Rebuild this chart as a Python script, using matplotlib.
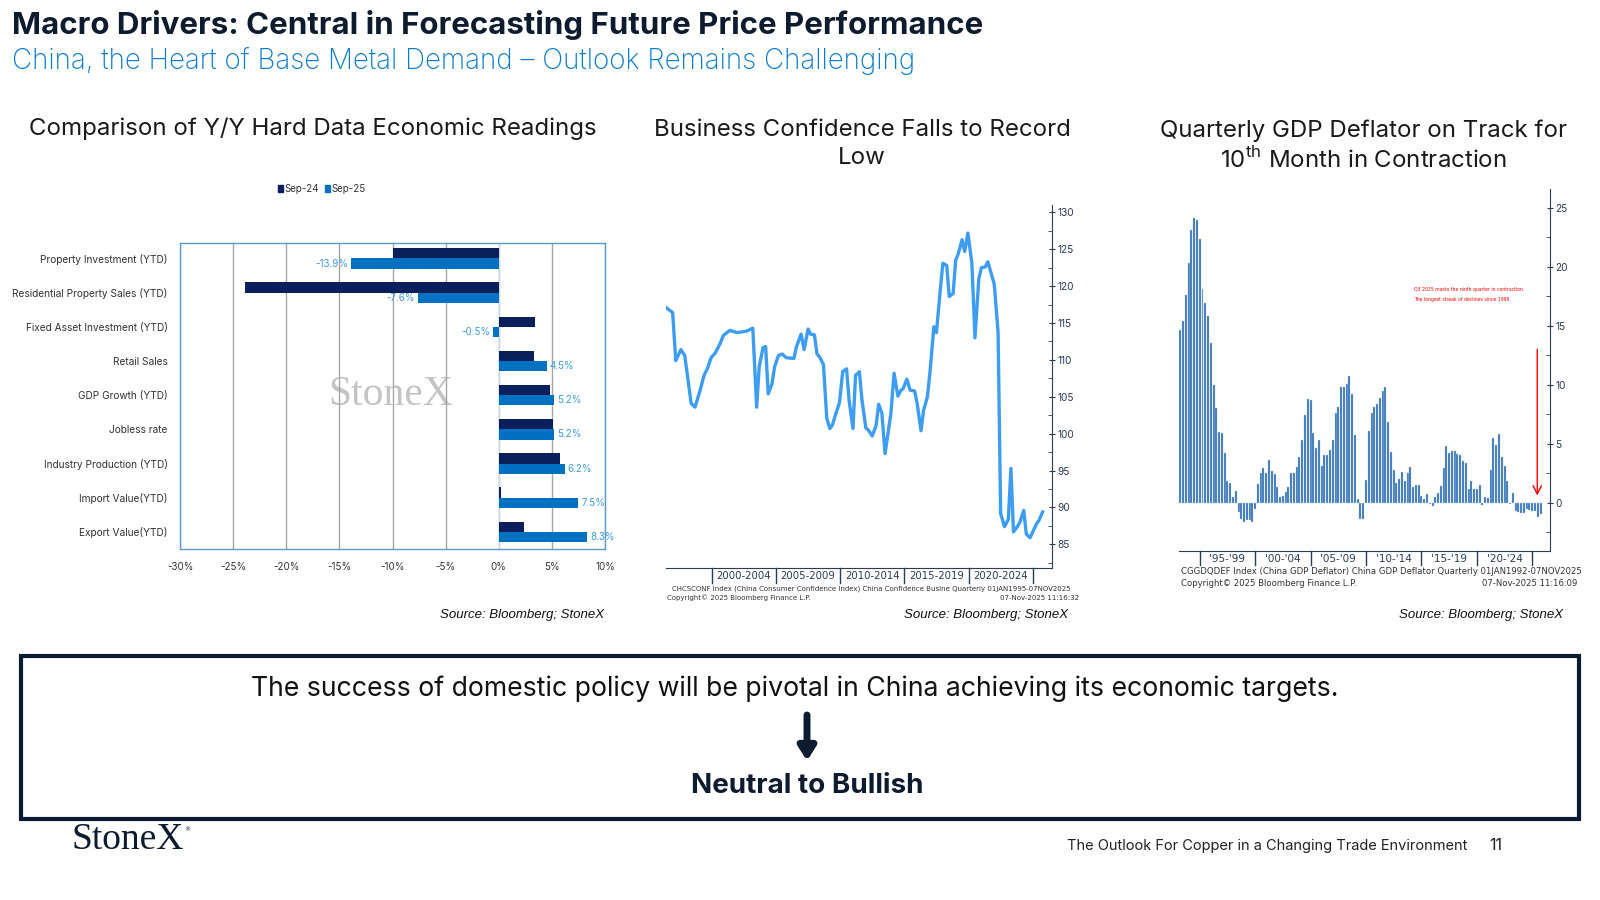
import matplotlib
matplotlib.use("Agg")
import matplotlib.pyplot as plt
import matplotlib.transforms as mtransforms
from matplotlib.patches import Rectangle, Patch

plt.rcParams['font.family'] = ['Inter', 'DejaVu Sans']
plt.rcParams['mathtext.fontset'] = 'custom'
plt.rcParams['mathtext.rm'] = 'Inter'

W, H = 1600, 900

# ---- left chart: Y/Y hard data ----
categories = ["Property Investment (YTD)", "Residential Property Sales (YTD)",
              "Fixed Asset Investment (YTD)", "Retail Sales", "GDP Growth (YTD)",
              "Jobless rate", "Industry Production (YTD)", "Import Value(YTD)",
              "Export Value(YTD)"]
sep24 = [-10.0, -23.9, 3.4, 3.3, 4.8, 5.1, 5.8, 0.2, 2.4]
sep25 = [-13.9, -7.6, -0.5, 4.5, 5.2, 5.2, 6.2, 7.5, 8.3]
pct_ticks = [-30, -25, -20, -15, -10, -5, 0, 5, 10]

# ---- middle chart: business confidence (date, index) ----
conf_dates = [1996.44, 1996.75, 1996.96, 1997.2, 1997.6, 1997.9, 1998.4, 1998.7, 1999.1,
              1999.4, 1999.66, 1999.95, 2000.26, 2000.65, 2000.9, 2001.4, 2002.0, 2002.7,
              2003.2, 2003.5, 2003.7, 2004.0, 2004.2, 2004.4, 2004.7, 2004.9, 2005.2,
              2005.5, 2005.8, 2006.4, 2006.6, 2006.96, 2007.2, 2007.5, 2007.7, 2008.0,
              2008.2, 2008.4, 2008.7, 2008.96, 2009.2, 2009.4, 2009.7, 2009.95, 2010.2,
              2010.5, 2010.7, 2011.0, 2011.2, 2011.5, 2011.7, 2012.0, 2012.2, 2012.5,
              2012.8, 2013.0, 2013.25, 2013.5, 2013.95, 2014.2, 2014.5, 2014.7, 2014.9,
              2015.2, 2015.45, 2015.8, 2016.0, 2016.3, 2016.5, 2016.8, 2017.0, 2017.3,
              2017.5, 2017.8, 2018.0, 2018.3, 2018.5, 2018.8, 2019.0, 2019.2, 2019.5,
              2019.7, 2019.95, 2020.26, 2020.5, 2020.8, 2021.0, 2021.3, 2021.5, 2022.0,
              2022.3, 2022.5, 2022.8, 2023.1, 2023.3, 2023.5, 2023.8, 2024.0, 2024.3,
              2024.5, 2024.8, 2025.0, 2025.3, 2025.5, 2025.77]
conf_values = [117.1, 116.7, 116.4, 109.9, 111.4, 110.6, 104.1, 103.6, 105.9, 107.9, 108.8,
               110.3, 110.9, 112.2, 113.3, 114.0, 113.7, 113.9, 114.3, 103.6, 109.1, 111.7,
               111.8, 105.4, 106.8, 109.1, 110.6, 110.8, 110.3, 110.2, 111.8, 113.5, 111.4,
               114.2, 113.5, 113.4, 110.8, 110.4, 109.4, 102.1, 100.7, 101.2, 102.9, 104.2,
               108.4, 108.8, 104.5, 100.7, 107.9, 108.4, 104.6, 100.8, 100.5, 99.7, 101.1,
               104.0, 102.8, 97.3, 102.7, 108.2, 105.1, 105.8, 106.1, 107.4, 105.9, 105.8,
               104.1, 100.4, 103.2, 105.0, 108.4, 114.5, 113.7, 119.5, 123.1, 122.8, 118.6,
               119.0, 123.5, 124.4, 126.3, 124.7, 127.2, 123.1, 113.0, 121.0, 122.5, 122.6,
               123.3, 120.3, 113.8, 89.2, 87.4, 88.4, 95.3, 86.7, 87.4, 88.0, 89.6, 86.4,
               85.9, 86.7, 87.8, 88.3, 89.4]
conf_period_labels = ["2000-2004", "2005-2009", "2010-2014", "2015-2019", "2020-2024"]
conf_period_starts = [2000, 2005, 2010, 2015, 2020, 2025]

# ---- right chart: quarterly GDP deflator, 1993Q1 .. 2025Q3 ----
deflator_first_year = 1993
deflator = [14.6, 15.4, 17.6, 20.3, 23.1, 24.1, 24.0, 22.4, 18.1, 16.9,
            15.8, 13.5, 10.0, 8.0, 6.0, 5.9, 4.2, 1.8, 1.7, 0.5,
            1.0, -0.8, -1.4, -1.6, -1.5, -1.5, -1.6, -0.5, 1.6, 2.5,
            2.9, 2.5, 3.6, 2.7, 2.4, 1.3, 0.5, 0.6, 0.9, 1.3,
            2.5, 2.5, 3.0, 3.9, 5.3, 7.4, 8.8, 8.7, 5.9, 4.6,
            5.3, 3.1, 4.0, 4.0, 4.5, 5.3, 7.6, 8.1, 9.8, 9.8,
            10.1, 10.7, 9.2, 5.7, 0.3, -1.4, -1.4, 1.9, 6.1, 7.6,
            8.1, 8.4, 8.9, 9.5, 9.8, 6.8, 4.3, 2.8, 1.7, 2.0,
            2.6, 1.8, 2.5, 3.0, 1.3, 1.5, 1.5, 0.6, 0.3, 0.7,
            -0.1, -0.3, 0.5, 0.8, 1.4, 2.9, 4.8, 4.2, 4.4, 4.4,
            4.1, 4.0, 3.5, 3.4, 1.2, 1.8, 1.2, 1.2, 1.5, -0.2,
            0.5, 0.4, 2.8, 5.5, 4.9, 5.8, 3.9, 3.1, 1.8, -0.1,
            0.8, -0.7, -0.8, -0.9, -0.9, -0.5, -0.6, -0.7, -0.7, -1.2,
            -1.0]
defl_period_labels = ["'95-'99", "'00-'04", "'05-'09", "'10-'14", "'15-'19", "'20-'24"]
defl_period_starts = [1995, 2000, 2005, 2010, 2015, 2020, 2025]

NAVY = "#0d1b2e"
BLUE = "#0a7bd1"


def px_axes(fig, l, t, r, b):
    return fig.add_axes([l / W, 1 - b / H, (r - l) / W, (b - t) / H])


fig = plt.figure(figsize=(16, 9), dpi=100)
fig.patch.set_facecolor("white")

# background axes in pixel coords for slide text
bg = fig.add_axes([0, 0, 1, 1])
bg.set_xlim(0, W)
bg.set_ylim(H, 0)
bg.axis("off")

bg.text(12, 25, "Macro Drivers: Central in Forecasting Future Price Performance",
        fontsize=22.5, fontweight="bold", color=NAVY, va="center", ha="left")
bg.text(12, 61, "China, the Heart of Base Metal Demand \u2013 Outlook Remains Challenging",
        fontsize=20, fontweight="light", color=BLUE, va="center", ha="left")

bg.text(313, 129, "Comparison of Y/Y Hard Data Economic Readings", fontsize=17.3,
        color="#1a1a1a", ha="center", va="center")
bg.text(862, 144, "Business Confidence Falls to Record\nLow", fontsize=17.3,
        color="#1a1a1a", ha="center", va="center", linespacing=1.3)
bg.text(1363, 146, "Quarterly GDP Deflator on Track for\n10$^{\\mathrm{th}}$ Month in Contraction",
        fontsize=17.3, color="#1a1a1a", ha="center", va="center", linespacing=1.25)

src_kw = dict(fontsize=9.5, style="italic", family="Liberation Sans", color="#111111",
              ha="right", va="center")
bg.text(604, 615, "Source: Bloomberg; StoneX", **src_kw)
bg.text(1068, 615, "Source: Bloomberg; StoneX", **src_kw)
bg.text(1563, 615, "Source: Bloomberg; StoneX", **src_kw)

# Bloomberg footnotes
fn_kw = dict(family="DejaVu Sans", color="#333333", va="center")
bg.text(672, 589, "CHCSCONF Index (China Consumer Confidence Index) China Confidence Busine "
        "Quarterly 01JAN1995-07NOV2025", fontsize=5.0, ha="left", **fn_kw)
bg.text(667, 598, "Copyright\u00a9 2025 Bloomberg Finance L.P.", fontsize=5.0, ha="left", **fn_kw)
bg.text(1079, 598, "07-Nov-2025 11:16:32", fontsize=5.0, ha="right", **fn_kw)
bg.text(1181, 572, "CGGDQDEF Index (China GDP Deflator) China GDP Deflator Quarterly "
        "01JAN1992-07NOV2025", fontsize=6.1, ha="left", **fn_kw)
bg.text(1181, 583, "Copyright\u00a9 2025 Bloomberg Finance L.P.", fontsize=6.1, ha="left", **fn_kw)
bg.text(1577, 583, "07-Nov-2025 11:16:09", fontsize=6.1, ha="right", **fn_kw)

# conclusion box
bg.add_patch(Rectangle((21, 656), 1558, 163, fill=False, edgecolor=NAVY, lw=3))
bg.text(795, 689, "The success of domestic policy will be pivotal in China achieving its economic targets.",
        fontsize=19.2, color="#111111", ha="center", va="center")
bg.annotate("", xy=(807, 761), xytext=(807, 715),
            arrowprops=dict(arrowstyle="-|>,head_width=0.5,head_length=0.8", lw=5,
                            color=NAVY, shrinkA=0, shrinkB=0))
bg.text(807, 786, "Neutral to Bullish", fontsize=20, fontweight="bold", color=NAVY,
        ha="center", va="center")

# footer
bg.text(72, 840, "StoneX", family="Liberation Serif", fontsize=27, color=NAVY,
        ha="left", va="center")
bg.text(187, 830, "\u00ae", family="DejaVu Sans", fontsize=4.5, color=NAVY, ha="center", va="center")
bg.text(1467, 846, "The Outlook For Copper in a Changing Trade Environment", fontsize=10.5,
        color="#222222", ha="right", va="center")
bg.text(1496, 846, "11", fontsize=11.5, color="#222222", ha="center", va="center")

# ---------------- left chart ----------------
ax1 = px_axes(fig, 180, 243, 605, 549)
y = list(range(len(categories)))
bh = 0.3
ax1.barh([v - bh / 2 for v in y], sep24, height=bh, color="#0b1f5c", label="Sep-24", zorder=3)
ax1.barh([v + bh / 2 for v in y], sep25, height=bh, color="#0070c0", label="Sep-25", zorder=3)
for yi, v in zip(y, sep25):
    if v < 0:
        ax1.text(v - 0.3, yi + bh / 2, f"{v:.1f}%", color="#3d9be0", fontsize=7,
                 ha="right", va="center", zorder=4)
    else:
        ax1.text(v + 0.3, yi + bh / 2, f"{v:.1f}%", color="#3d9be0", fontsize=7,
                 ha="left", va="center", zorder=4)
ax1.set_xlim(-30, 10)
ax1.set_ylim(len(categories) - 0.5, -0.45)
ax1.set_xticks(pct_ticks)
ax1.set_xticklabels([f"{t}%" for t in pct_ticks], fontsize=7, color="#333333")
ax1.set_yticks(y)
ax1.set_yticklabels(categories, fontsize=7.3, color="#333333")
ax1.tick_params(length=0, pad=9)
ax1.grid(axis="x", color="#a6a6a6", lw=1, zorder=0)
ax1.axvline(0, color="#dbe7f5", lw=1.2, zorder=2)
for s in ax1.spines.values():
    s.set_color("#5b9bd5")
    s.set_linewidth(1)
ax1.text(-10.2, 4.0, "StoneX", family="Liberation Serif", fontsize=30, color="#c4c4c4",
         ha="center", va="center", zorder=1)
fig.legend(handles=[Patch(color="#0b1f5c"), Patch(color="#0070c0")], labels=["Sep-24", "Sep-25"],
           loc="center", bbox_to_anchor=(322 / W, 1 - 189 / H), ncol=2, frameon=False,
           fontsize=7, handlelength=0.5, handleheight=0.7, columnspacing=0.6,
           handletextpad=0.2, labelcolor="#333333")

# ---------------- middle chart ----------------
AX_C = "#2d3b55"
ax2 = px_axes(fig, 666, 205, 1052, 568)
ax2.plot(conf_dates, conf_values, color="#3d9df3", lw=2.4, solid_joinstyle="round")
ax2.set_xlim(1996.44, 2026.5)
ax2.set_ylim(81.8, 131)
ax2.yaxis.tick_right()
ax2.set_yticks(range(85, 131, 5))
ax2.set_yticks([82.5 + 5 * i for i in range(10)], minor=True)
ax2.tick_params(axis="y", which="major", labelsize=7.3, colors=AX_C, direction="inout", length=4, pad=2)
ax2.tick_params(axis="y", which="minor", direction="in", length=3, colors=AX_C)
ax2.set_xticks([])
for k in ["top", "left"]:
    ax2.spines[k].set_visible(False)
for k in ["right", "bottom"]:
    ax2.spines[k].set_color(AX_C)
trans2 = mtransforms.blended_transform_factory(ax2.transData, ax2.transAxes)
for xs in conf_period_starts:
    ax2.plot([xs, xs], [0, -0.04], color=AX_C, lw=1, transform=trans2, clip_on=False)
for lab, a, b in zip(conf_period_labels, conf_period_starts[:-1], conf_period_starts[1:]):
    ax2.text((a + b) / 2, -0.022, lab, transform=trans2, fontsize=7.3, family="DejaVu Sans",
             color=AX_C, ha="center", va="center")

# ---------------- right chart ----------------
ax3 = px_axes(fig, 1179, 189, 1550, 551)
qx = [deflator_first_year + (i + 1) / 4 for i in range(len(deflator))]
ax3.bar(qx, deflator, width=0.18, color="#2f6db2", edgecolor="#b9d0ea", lw=0.3)
ax3.set_xlim(1993.13, 2026.6)
ax3.set_ylim(-4.1, 26.6)
ax3.yaxis.tick_right()
ax3.set_yticks(range(0, 26, 5))
ax3.set_yticks([-2.5 + 5 * i for i in range(6)], minor=True)
ax3.tick_params(axis="y", which="major", labelsize=7.3, colors=AX_C, direction="inout", length=4, pad=2)
ax3.tick_params(axis="y", which="minor", direction="in", length=3, colors=AX_C)
ax3.set_xticks([])
for k in ["top", "left"]:
    ax3.spines[k].set_visible(False)
for k in ["right", "bottom"]:
    ax3.spines[k].set_color(AX_C)
trans3 = mtransforms.blended_transform_factory(ax3.transData, ax3.transAxes)
for xs in defl_period_starts:
    ax3.plot([xs, xs], [0, -0.04], color=AX_C, lw=1, transform=trans3, clip_on=False)
for lab, a, b in zip(defl_period_labels, defl_period_starts[:-1], defl_period_starts[1:]):
    ax3.text((a + b) / 2, -0.022, lab, transform=trans3, fontsize=7.5, family="DejaVu Sans",
             color=AX_C, ha="center", va="center")
ax3.annotate("", xy=(2025.45, 0.6), xytext=(2025.45, 13.0),
             arrowprops=dict(arrowstyle="->,head_width=0.3,head_length=0.6", color="red", lw=1,
                             shrinkA=0, shrinkB=0))
ax3.text(2014.3, 18.1, "Q3 2025 marks the ninth quarter in contraction.", fontsize=3.3,
         color="red", ha="left", va="center", family="DejaVu Sans")
ax3.text(2014.3, 17.2, "The longest streak of declines since 1999.", fontsize=3.3,
         color="red", ha="left", va="center", family="DejaVu Sans")

fig.savefig("out.png", dpi=100, facecolor="white")
